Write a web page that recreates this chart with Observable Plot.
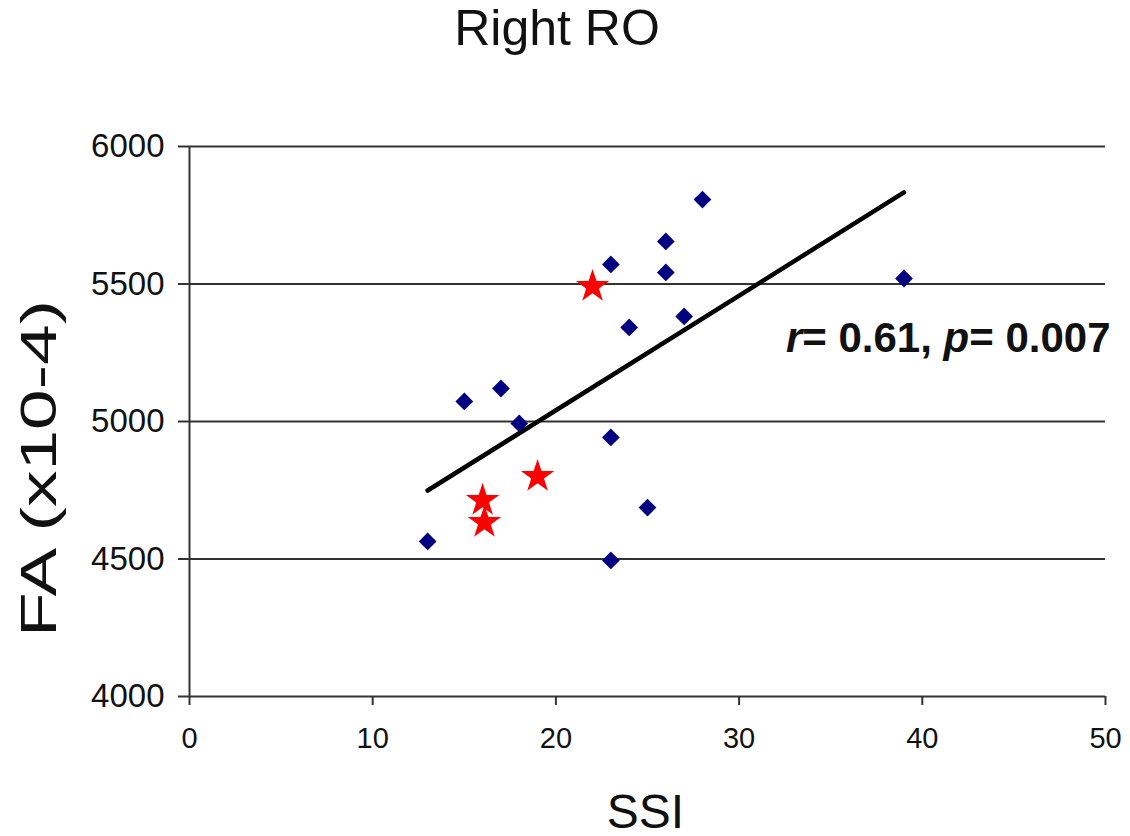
<!DOCTYPE html>
<html>
<head>
<meta charset="utf-8">
<script src="https://cdn.jsdelivr.net/npm/d3@7"></script>
<script src="https://cdn.jsdelivr.net/npm/@observablehq/plot@0.6"></script>
<style>
  html, body { margin: 0; padding: 0; background: #fff; }
  #wrap { width: 1130px; position: relative; }
  #title { position: relative; height: 70px; }
  #title span { position: absolute; left: 0; top: 3px; width: 1114px; text-align: center;
    font: 50px/50px "Liberation Sans", Arial, sans-serif; color: #111; }
  svg { display: block; }
</style>
</head>
<body>
<div id="wrap">
  <div id="title"><span>Right RO</span></div>
  <div id="chart"></div>
</div>
<script>
// Blue diamonds (SSI, FA x10-4)
const diamondSSI = [28, 26, 26, 23, 39, 27, 24, 17, 15, 18, 23, 25, 13, 23];
const diamondFA  = [5807, 5655, 5542, 5571, 5520, 5382, 5342, 5120, 5073, 4993, 4942, 4687, 4564, 4495];
// Red stars
const starSSI = [22, 19, 16, 16.1];
const starFA  = [5491, 4800, 4713, 4633];
// Regression line end points
const trendSSI = [13, 39];
const trendFA  = [4749, 5833];
// Axis ticks
const xTicks = [0, 10, 20, 30, 40, 50];
const yTicks = [4000, 4500, 5000, 5500, 6000];
const xLabel = "SSI";
const yLabel = "FA (x10-4)";
const annotation = "r= 0.61, p= 0.007";

const diamonds = diamondSSI.map((x, i) => ({x, y: diamondFA[i]}));
const stars = starSSI.map((x, i) => ({x, y: starFA[i]}));
const trend = trendSSI.map((x, i) => ({x, y: trendFA[i]}));

const font = '"Liberation Sans", Arial, sans-serif';

const chart = Plot.plot({
  width: 1130,
  height: 766,
  marginTop: 76,
  marginBottom: 140,
  marginLeft: 189,
  marginRight: 25,
  style: {background: "white", fontFamily: font, color: "#111", overflow: "visible"},
  x: {domain: [0, 50]},
  y: {domain: [4000, 6000]},
  marks: [
    Plot.ruleY(yTicks, {x1: 0, x2: 50, stroke: "#333", strokeWidth: 2}),
    Plot.ruleX([0], {y1: 4000, y2: 6000, stroke: "#333", strokeWidth: 2}),
    Plot.axisY({ticks: yTicks, tickSize: 11, tickPadding: 14, fontSize: 33, label: null,
      stroke: "#333", strokeWidth: 2, tickFormat: d => String(d)}),
    Plot.axisX({ticks: xTicks, tickSize: 9, tickPadding: 22, fontSize: 29, label: null,
      fontFamily: '"Liberation Sans Narrow", "Arial Narrow", "Liberation Sans", sans-serif',
      stroke: "#333", strokeWidth: 2}),
    Plot.line(trend, {x: "x", y: "y", stroke: "#000", strokeWidth: 4.5}),
    Plot.dot(diamonds, {x: "x", y: "y", symbol: "diamond2", r: 8, fill: "#000080", stroke: "none"}),
    Plot.dot(stars, {x: "x", y: "y", symbol: "star", r: 10.5, fill: "#ff0000", stroke: "none"}),
    Plot.text([annotation], {frameAnchor: "top-right", textAnchor: "end", lineAnchor: "bottom",
      dx: 5, dy: 205, fontSize: 42, fontWeight: "bold", fill: "#111", className: "anno"}),
    Plot.text([xLabel], {frameAnchor: "bottom", lineAnchor: "bottom", dx: -2, dy: 131,
      fontSize: 48, fill: "#111"}),
    Plot.text([yLabel], {frameAnchor: "left", rotate: -90, textAnchor: "middle", lineAnchor: "bottom",
      dx: -134, dy: 47, fontSize: 50, fill: "#111", className: "ylab"})
  ]
});

document.getElementById("chart").appendChild(chart);

// italic r and p in annotation
const annoText = chart.querySelector("g.anno text");
if (annoText) {
  const parts = [["r", true], ["= 0.61, ", false], ["p", true], ["= 0.007", false]];
  annoText.textContent = "";
  for (const [s, it] of parts) {
    const t = document.createElementNS("http://www.w3.org/2000/svg", "tspan");
    t.textContent = s;
    if (it) t.setAttribute("font-style", "italic");
    annoText.appendChild(t);
  }
}
// stretched y label as in the original
const ylab = chart.querySelector("g.ylab text");
if (ylab) {
  ylab.setAttribute("textLength", 337);
  ylab.setAttribute("lengthAdjust", "spacingAndGlyphs");
}
</script>
</body>
</html>
